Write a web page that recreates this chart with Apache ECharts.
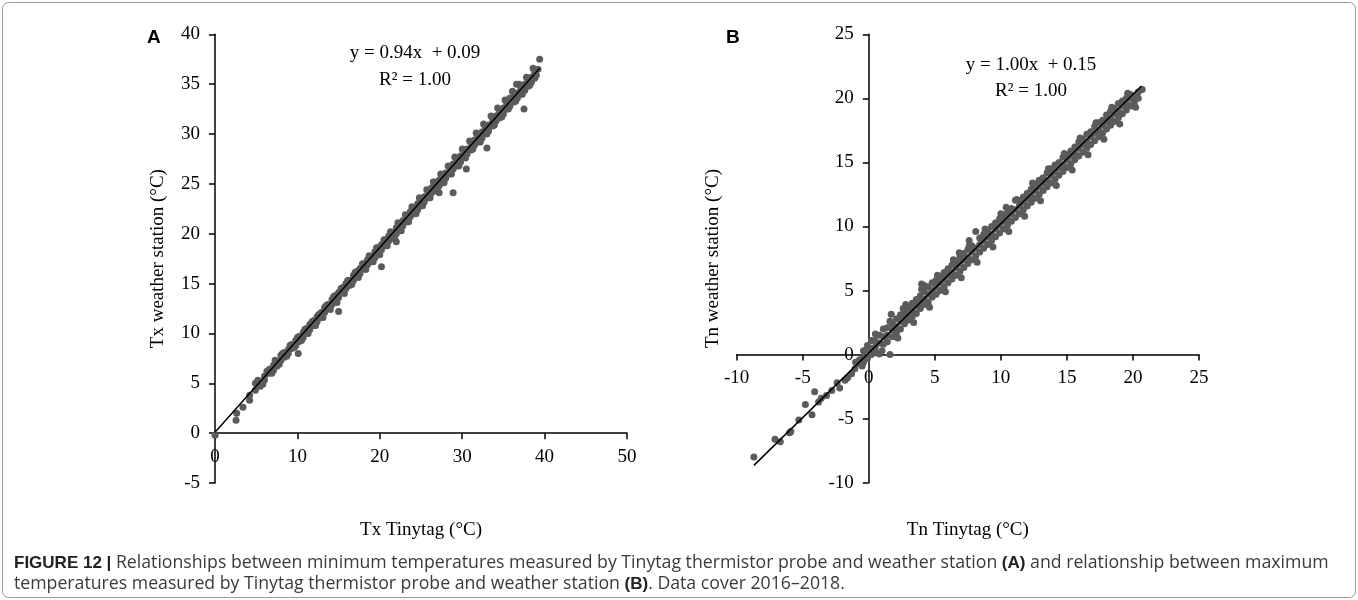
<!DOCTYPE html>
<html><head><meta charset="utf-8">
<script src="https://cdn.jsdelivr.net/npm/echarts@6/dist/echarts.min.js"></script>
<style>html,body{margin:0;padding:0;background:#fff}#c{width:1358px;height:600px}</style>
</head><body><div id="c"></div>
<script>
// ---- Data: panel A (Tx Tinytag vs Tx weather station) ----
const pointsA = [
[0,-0.2],[2.55,1.3],[2.63,2.0],[3.4,2.6],[4.2,3.3],[4.2,3.8],[4.9,4.3],[4.9,5.0],
[5.5,5.0],[5.5,4.7],[6.0,5.7],[6.0,5.3],[6.6,6.0],[6.6,6.4],[7.1,6.3],[7.1,6.8],
[7.5,7.1],[7.5,6.7],[8.0,7.3],[8.0,7.8],[8.4,7.6],[8.4,8.1],[8.9,8.4],[8.9,8.0],
[9.3,8.5],[9.3,8.9],[9.8,9.3],[9.8,8.8],[10.1,8.0],[10.2,9.2],[10.2,9.7],[10.7,10.1],
[10.7,9.6],[11.1,10.5],[11.1,10.1],[11.5,10.4],[11.5,10.9],[12.0,11.3],[12.0,10.8],[12.4,11.2],
[12.4,11.7],[12.9,12.1],[12.9,11.6],[13.3,12.6],[13.3,12.1],[13.7,12.5],[13.7,12.9],[14.2,13.4],
[14.2,12.9],[14.6,13.3],[14.6,13.8],[15.0,14.1],[15.0,13.6],[15.0,12.2],[15.5,14.6],[15.5,14.2],
[15.9,14.5],[15.9,15.0],[16.3,15.3],[16.3,14.8],[16.8,15.8],[16.8,15.3],[17.2,15.7],[17.2,16.2],
[17.6,16.5],[17.6,16.0],[18.1,17.0],[18.1,16.5],[18.5,16.9],[18.5,17.4],[18.9,17.7],[18.9,17.2],
[19.4,18.2],[19.4,17.6],[19.8,18.1],[19.8,18.6],[20.2,18.9],[20.2,18.4],[20.2,16.7],[20.7,19.4],
[20.7,18.8],[21.1,19.3],[21.1,19.8],[21.5,20.1],[21.5,19.6],[22.0,20.6],[22.0,20.0],[22.0,19.2],
[22.4,20.5],[22.4,21.0],[22.8,21.3],[22.8,20.8],[23.3,21.8],[23.3,21.2],[23.7,21.7],[23.7,22.2],
[24.1,22.5],[24.1,22.0],[24.6,23.0],[24.6,22.4],[25.0,22.8],[25.0,23.4],[25.4,23.7],[25.4,23.2],
[25.9,24.2],[25.9,23.6],[26.3,24.1],[26.3,24.6],[26.7,24.9],[26.7,24.3],[27.2,25.4],[27.2,24.8],
[27.2,24.1],[27.6,25.3],[27.6,25.8],[28.0,26.1],[28.0,25.6],[28.5,26.6],[28.5,26.0],[28.9,26.5],
[28.9,27.0],[28.9,24.1],[29.3,27.3],[29.3,26.8],[29.8,27.8],[29.8,27.2],[30.2,27.7],[30.2,28.2],
[30.5,26.5],[30.6,28.5],[30.6,28.0],[31.1,29.0],[31.1,28.4],[31.5,28.9],[31.5,29.4],[31.9,29.7],
[31.9,29.2],[32.4,30.2],[32.4,29.6],[32.8,30.1],[32.8,30.6],[33.0,28.6],[33.2,30.9],[33.2,30.3],
[33.7,31.4],[33.7,30.8],[34.1,31.3],[34.1,31.8],[34.5,32.1],[34.5,31.6],[35.0,32.6],[35.0,32.0],
[35.4,32.5],[35.4,33.0],[35.8,33.6],[35.8,32.8],[36.3,33.8],[36.3,33.2],[36.6,35.0],[36.7,34.1],
[36.7,33.6],[37.1,34.5],[37.1,34.0],[37.5,32.5],[37.6,35.0],[37.6,34.4],[38.0,35.3],[38.0,34.8],
[38.4,35.7],[38.4,35.2],[38.8,36.1],[38.8,35.6],[39.2,36.5],[39.4,37.5],
[5.2,5.3],[5.8,4.9],[6.3,6.2],[6.9,6.0],[7.3,7.3],[7.8,6.9],[8.2,8.0],[8.7,7.7],
[9.1,8.8],[9.6,8.6],[10.0,9.6],[10.5,9.3],[10.9,10.4],[11.3,10.0],[11.8,11.2],[12.2,10.8],
[12.6,11.9],[13.1,11.6],[13.5,12.8],[14.0,12.4],[14.4,13.7],[14.8,13.1],[15.3,14.5],[15.7,14.0],
[16.1,15.3],[16.6,14.9],[17.0,16.1],[17.4,15.6],[17.9,17.0],[18.3,16.4],[18.7,17.8],[19.2,17.2],
[19.6,18.6],[20.0,17.9],[20.5,19.4],[20.9,18.8],[21.3,20.2],[21.8,19.5],[22.2,21.1],[22.6,20.3],
[23.1,21.9],[23.5,21.2],[23.9,22.7],[24.4,22.0],[24.8,23.6],[25.2,22.8],[25.7,24.4],[26.1,23.6],
[26.5,25.2],[27.0,24.3],[27.4,26.0],[27.8,25.1],[28.3,26.8],[28.7,26.0],[29.1,27.7],[29.6,26.8],
[30.0,28.5],[30.4,27.6],[30.9,29.3],[31.3,28.5],[31.7,30.1],[32.2,29.2],[32.6,31.0],[33.0,30.0],
[33.5,31.8],[33.9,30.9],[34.3,32.6],[34.8,31.7],[35.2,33.4],[35.6,32.5],[36.1,34.3],[36.5,33.3],
[36.9,35.0],[37.3,34.0],[37.8,35.7],[38.2,34.9],[38.6,36.6],[39.0,35.9]
];
const fitA = [[0,0.09],[39.4,36.6]];
const xTicksA = {min:0, max:50, step:10};
const yTicksA = {min:-5, max:40, step:5};

// ---- Data: panel B (Tn Tinytag vs Tn weather station) ----
const pointsB = [
[-8.7,-8.0],[-7.1,-6.6],[-6.7,-6.8],[-6.0,-6.1],[-5.9,-6.0],[-5.3,-5.1],[-4.8,-3.9],[-4.3,-4.7],
[-4.1,-2.9],[-3.8,-3.7],[-3.6,-3.4],[-3.2,-3.2],[-2.8,-2.8],[-2.4,-2.2],[-2.2,-2.6],[-1.8,-2.0],
[-1.6,-1.8],[-1.3,-1.5],[-1.05,-1.1],[-1.0,-0.6],[-0.8,-0.7],[-0.7,-0.4],[-0.5,-0.9],[-0.4,-0.2],
[-0.4,0.3],[-0.4,-0.6],[-0.2,0.35],[-0.1,0.7],[-0.1,-0.3],[0.2,0.5],[0.2,0.0],[0.2,1.1],
[0.45,1.1],[0.5,0.6],[0.5,0.2],[0.8,0.9],[0.8,0.05],[0.8,1.5],[1.1,1.4],[1.1,0.8],
[1.1,2.0],[1.4,1.5],[1.4,1.0],[1.4,2.1],[1.6,0.0],[1.7,3.15],[1.8,1.9],[1.8,1.4],
[1.8,2.4],[2.1,2.2],[2.1,1.7],[2.1,2.8],[2.4,2.6],[2.4,2.0],[2.4,3.1],[2.6,3.6],
[2.7,2.9],[2.7,2.4],[2.7,3.3],[3.0,3.2],[3.0,2.7],[3.0,3.7],[3.3,3.5],[3.3,3.0],
[3.3,4.0],[3.6,3.8],[3.6,3.2],[3.6,4.3],[3.9,4.1],[3.9,3.6],[3.9,4.6],[4.0,5.5],
[4.2,4.3],[4.2,3.9],[4.2,4.9],[4.2,5.4],[4.5,4.7],[4.5,4.1],[4.5,5.3],[4.8,5.0],
[4.8,4.5],[4.8,5.6],[5.1,5.3],[5.1,4.7],[5.1,5.8],[5.4,5.6],[5.4,5.0],[5.4,6.1],
[5.7,5.9],[5.7,5.3],[5.7,6.4],[6.0,6.2],[6.0,5.6],[6.0,6.7],[6.3,6.4],[6.3,5.9],
[6.3,7.0],[6.6,6.8],[6.6,6.2],[6.6,7.3],[6.85,7.95],[6.9,7.1],[6.9,6.5],[6.9,7.6],
[7.2,7.4],[7.2,6.8],[7.2,7.9],[7.5,7.6],[7.5,7.1],[7.5,8.2],[7.6,8.9],[7.8,8.0],
[7.8,7.4],[7.8,8.5],[8.1,8.3],[8.1,7.7],[8.1,9.6],[8.4,8.6],[8.4,8.0],[8.4,9.1],
[8.7,8.9],[8.7,8.3],[8.7,9.4],[9.0,9.2],[9.0,8.6],[9.0,9.7],[9.3,9.4],[9.3,8.9],
[9.3,10.0],[9.6,9.8],[9.6,9.2],[9.6,10.3],[9.9,10.1],[9.9,9.5],[9.9,10.6],[10.2,10.4],
[10.2,9.8],[10.2,10.9],[10.4,11.5],[10.5,10.6],[10.5,10.1],[10.5,11.1],[10.8,11.0],[10.8,10.4],
[10.8,11.4],[11.1,11.3],[11.1,10.7],[11.1,12.05],[11.4,11.6],[11.4,11.0],[11.4,12.0],[11.7,11.9],
[11.7,11.3],[11.7,12.3],[12.0,12.2],[12.0,11.6],[12.0,12.6],[12.3,12.4],[12.3,11.9],[12.3,12.9],
[12.6,12.8],[12.6,12.2],[12.6,13.3],[12.9,13.1],[12.9,12.5],[12.9,13.6],[13.2,13.4],[13.2,12.8],
[13.2,13.8],[13.5,13.6],[13.5,13.1],[13.5,14.2],[13.8,14.0],[13.8,13.4],[13.8,14.5],[14.1,14.3],
[14.1,13.7],[14.1,14.8],[14.4,14.6],[14.4,14.0],[14.4,15.0],[14.7,14.8],[14.7,14.3],[14.7,15.4],
[15.0,15.2],[15.0,14.6],[15.0,15.6],[15.3,15.5],[15.3,14.9],[15.3,15.9],[15.6,15.7],[15.6,15.2],
[15.6,16.2],[15.9,16.1],[15.9,15.5],[15.9,16.6],[16.2,16.4],[16.2,15.8],[16.2,16.8],[16.5,16.6],
[16.5,16.1],[16.5,17.2],[16.8,17.0],[16.8,16.4],[16.8,17.4],[17.1,17.3],[17.1,16.7],[17.1,17.8],
[17.4,17.5],[17.4,17.0],[17.4,18.1],[17.7,17.9],[17.7,17.3],[17.7,18.3],[18.0,18.2],[18.0,17.6],
[18.0,18.7],[18.3,18.4],[18.3,17.9],[18.3,19.0],[18.6,18.8],[18.6,18.2],[18.6,19.2],[18.9,19.0],
[18.9,18.5],[18.9,19.6],[19.2,19.4],[19.2,18.8],[19.2,19.8],[19.5,19.6],[19.5,19.1],[19.5,20.0],
[19.8,20.0],[19.8,19.4],[19.8,20.3],[20.1,20.2],[20.1,19.7],[20.4,20.5],[20.4,20.0],[20.7,20.7],
[0.5,1.6],[1.0,0.3],[1.6,2.6],[2.2,1.3],[2.8,3.9],[3.4,2.5],[4.0,5.1],[4.6,3.7],
[5.2,6.2],[5.8,4.9],[6.4,7.4],[7.0,6.0],[7.6,8.5],[8.2,7.2],[8.8,9.8],[9.4,8.4],
[10.0,11.0],[10.6,9.6],[11.2,12.1],[11.8,10.8],[12.4,13.4],[13.0,12.0],[13.6,14.5],[14.2,13.2],
[14.8,15.7],[15.4,14.4],[16.0,16.9],[16.6,15.6],[17.2,18.1],[17.8,16.8],[18.4,19.3],[19.0,18.0],
[19.6,20.4],[20.2,19.3]
];
const fitB = [[-8.7,-8.65],[20.65,20.96]];
const xTicksB = {min:-10, max:25, step:5};
const yTicksB = {min:-10, max:25, step:5};

// ---- Texts ----
const eqA = ['y = 0.94x  + 0.09', 'R² = 1.00'];
const eqB = ['y = 1.00x  + 0.15', 'R² = 1.00'];
const namesA = {x:'Tx Tinytag (°C)', y:'Tx weather station (°C)'};
const namesB = {x:'Tn Tinytag (°C)', y:'Tn weather station (°C)'};
const captionLine1 = '{b|FIGURE 12 |} Relationships between minimum temperatures measured by Tinytag thermistor probe and weather station {b|(A)} and relationship between maximum';
const captionLine2 = 'temperatures measured by Tinytag thermistor probe and weather station {b|(B)}. Data cover 2016–2018.';

const serif = 'Liberation Serif';
const axisFont = {fontFamily: serif, fontSize: 19, color: '#000'};
// offset moves an axis from the grid edge to the zero line of the other axis
function zeroOffset(t, lenPx) { return -(0 - t.min) / (t.max - t.min) * lenPx; }
function xAx(g, t, name, gap, off) {
  return {type:'value', gridIndex:g, min:t.min, max:t.max, interval:t.step, position:'bottom', offset:off,
    axisLine:{onZero:false, lineStyle:{color:'#000', width:1.5}},
    axisTick:{length:6, lineStyle:{color:'#000', width:1.5}},
    axisLabel:Object.assign({margin:14}, axisFont), splitLine:{show:false},
    name:name, nameLocation:'middle', nameGap:gap, nameTextStyle:axisFont};
}
function yAx(g, t, name, gap, off) {
  return {type:'value', gridIndex:g, min:t.min, max:t.max, interval:t.step, position:'left', offset:off,
    axisLine:{onZero:false, lineStyle:{color:'#000', width:1.5}},
    axisTick:{length:6, lineStyle:{color:'#000', width:1.5}},
    axisLabel:Object.assign({margin:15}, axisFont), splitLine:{show:false},
    name:name, nameLocation:'middle', nameGap:gap, nameTextStyle:axisFont};
}
const gridA = {left:215, top:34.3, width:412, height:448.7};
const gridB = {left:736.7, top:34.3, width:462.3, height:448.4};
const dotColor = '#5b5b5b';
const chart = echarts.init(document.getElementById('c'), null, {renderer:'canvas'});
const capFont = 'Open Sans';
const capStyle = {fontFamily:capFont, fontSize:17.7, fill:'#3a3a3a'};
const capBold = {fontFamily:'Liberation Sans', fontSize:17, fontWeight:'bold', fill:'#222'};
chart.setOption({
  animation:false,
  backgroundColor:'#fff',
  grid:[gridA, gridB],
  xAxis:[xAx(0, xTicksA, namesA.x, 87, zeroOffset(yTicksA, gridA.height)),
         xAx(1, xTicksB, namesB.x, 166, zeroOffset(yTicksB, gridB.height))],
  yAxis:[yAx(0, yTicksA, namesA.y, 47, 0),
         yAx(1, yTicksB, namesB.y, 146, zeroOffset(xTicksB, gridB.width))],
  series:[
    {type:'scatter', xAxisIndex:0, yAxisIndex:0, data:pointsA, symbolSize:7, itemStyle:{color:dotColor, opacity:1}, z:2},
    {type:'line', xAxisIndex:0, yAxisIndex:0, data:fitA, symbol:'none', lineStyle:{color:'#000', width:1.5}, z:3},
    {type:'scatter', xAxisIndex:1, yAxisIndex:1, data:pointsB, symbolSize:7, itemStyle:{color:dotColor, opacity:1}, z:2},
    {type:'line', xAxisIndex:1, yAxisIndex:1, data:fitB, symbol:'none', lineStyle:{color:'#000', width:1.5}, z:3}
  ],
  graphic:[
    {type:'rect', shape:{x:2.5, y:2.5, width:1353, height:595, r:6}, style:{fill:'none', stroke:'#9a9a9a', lineWidth:1}, z:-1},
    {type:'text', left:147, top:28, style:{text:'A', fontFamily:'Liberation Sans', fontWeight:'bold', fontSize:19, fill:'#000'}},
    {type:'text', left:726, top:28, style:{text:'B', fontFamily:'Liberation Sans', fontWeight:'bold', fontSize:19, fill:'#000'}},
    {type:'text', x:415, y:53, style:{text:eqA[0], fontFamily:serif, fontSize:19, fill:'#000', align:'center', verticalAlign:'middle'}},
    {type:'text', x:415, y:80, style:{text:eqA[1], fontFamily:serif, fontSize:19, fill:'#000', align:'center', verticalAlign:'middle'}},
    {type:'text', x:1031, y:65, style:{text:eqB[0], fontFamily:serif, fontSize:19, fill:'#000', align:'center', verticalAlign:'middle'}},
    {type:'text', x:1031, y:91.5, style:{text:eqB[1], fontFamily:serif, fontSize:19, fill:'#000', align:'center', verticalAlign:'middle'}},
    {type:'text', x:14, y:563, style:Object.assign({}, capStyle, {verticalAlign:'middle', text:captionLine1, rich:{b:capBold}})},
    {type:'text', x:14, y:584, style:Object.assign({}, capStyle, {verticalAlign:'middle', text:captionLine2, rich:{b:capBold}})}
  ]
});
</script></body></html>
